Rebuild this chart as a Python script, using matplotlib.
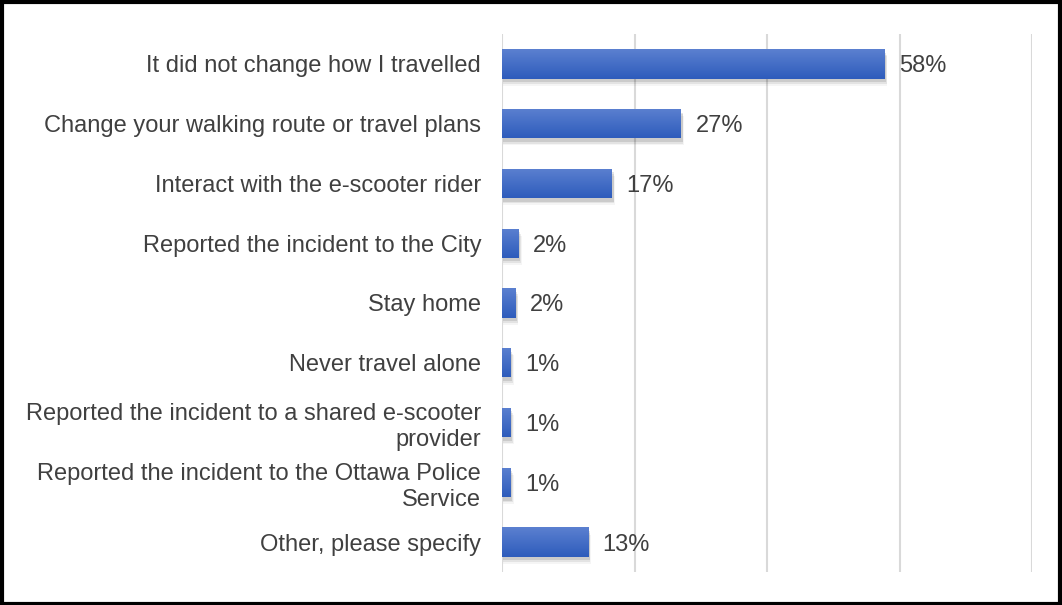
import numpy as np
import matplotlib.pyplot as plt
from matplotlib.patches import Rectangle
from matplotlib.colors import LinearSegmentedColormap

# ---- DATA ----
labels = [
    "It did not change how I travelled",
    "Change your walking route or travel plans",
    "Interact with the e-scooter rider",
    "Reported the incident to the City",
    "Stay home",
    "Never travel alone",
    "Reported the incident to a shared e-scooter\nprovider",
    "Reported the incident to the Ottawa Police\nService",
    "Other, please specify",
]
values = [57.7, 27.0, 16.6, 2.5, 2.0, 1.3, 1.3, 1.3, 13.0]
value_text = ["58%", "27%", "17%", "2%", "2%", "1%", "1%", "1%", "13%"]

plt.rcParams["font.family"] = ["Liberation Sans", "DejaVu Sans"]

fig = plt.figure(figsize=(10.62, 6.05), dpi=100)
ax = fig.add_axes([502 / 1062, 1 - 572 / 605, 530 / 1062, 538 / 605])

# light at top, darker at bottom (row 0 = top)
grad = LinearSegmentedColormap.from_list("bar", ["#5b80d0", "#2e5cbc"])
bh = 0.49
ys = np.arange(len(labels))

for y, v in zip(ys, values):
    # soft shadow under each bar
    for k, a in enumerate([0.10, 0.07, 0.04]):
        ax.add_patch(Rectangle((0.15, y - bh / 2 + 0.06 + k * 0.03), v + 0.1 + k * 0.1, bh,
                               color="black", alpha=a, lw=0, zorder=2))
    im = ax.imshow(np.linspace(0, 1, 50).reshape(-1, 1), cmap=grad, aspect="auto",
                   extent=(0, v, y + bh / 2, y - bh / 2), zorder=3)
    rect = Rectangle((0, y - bh / 2), v, bh, fill=False, lw=0)
    ax.add_patch(rect)
    im.set_clip_path(rect)

for y, v, t in zip(ys, values, value_text):
    ax.text(v + 2.2, y + 0.04, t, va="center", ha="left", fontsize=17, color="#404040")

ax.set_xlim(0, 80)
ax.set_ylim(len(labels) - 0.5, -0.5)
ax.set_xticks([0, 20, 40, 60, 80])
ax.xaxis.grid(True, color="#d9d9d9", lw=1.5)
ax.set_axisbelow(True)
ax.tick_params(axis="x", length=0, labelbottom=False)
ax.tick_params(axis="y", length=0, pad=15)
ax.set_yticks(ys)
ax.set_yticklabels(labels, fontsize=17, color="#404040", linespacing=1.25)
for s in ax.spines.values():
    s.set_visible(False)

# outer black frame
fig.patches.append(Rectangle((0.002, 0.002), 0.996, 0.994, transform=fig.transFigure,
                             fill=False, ec="black", lw=3))

fig.savefig("out.png", dpi=100)
